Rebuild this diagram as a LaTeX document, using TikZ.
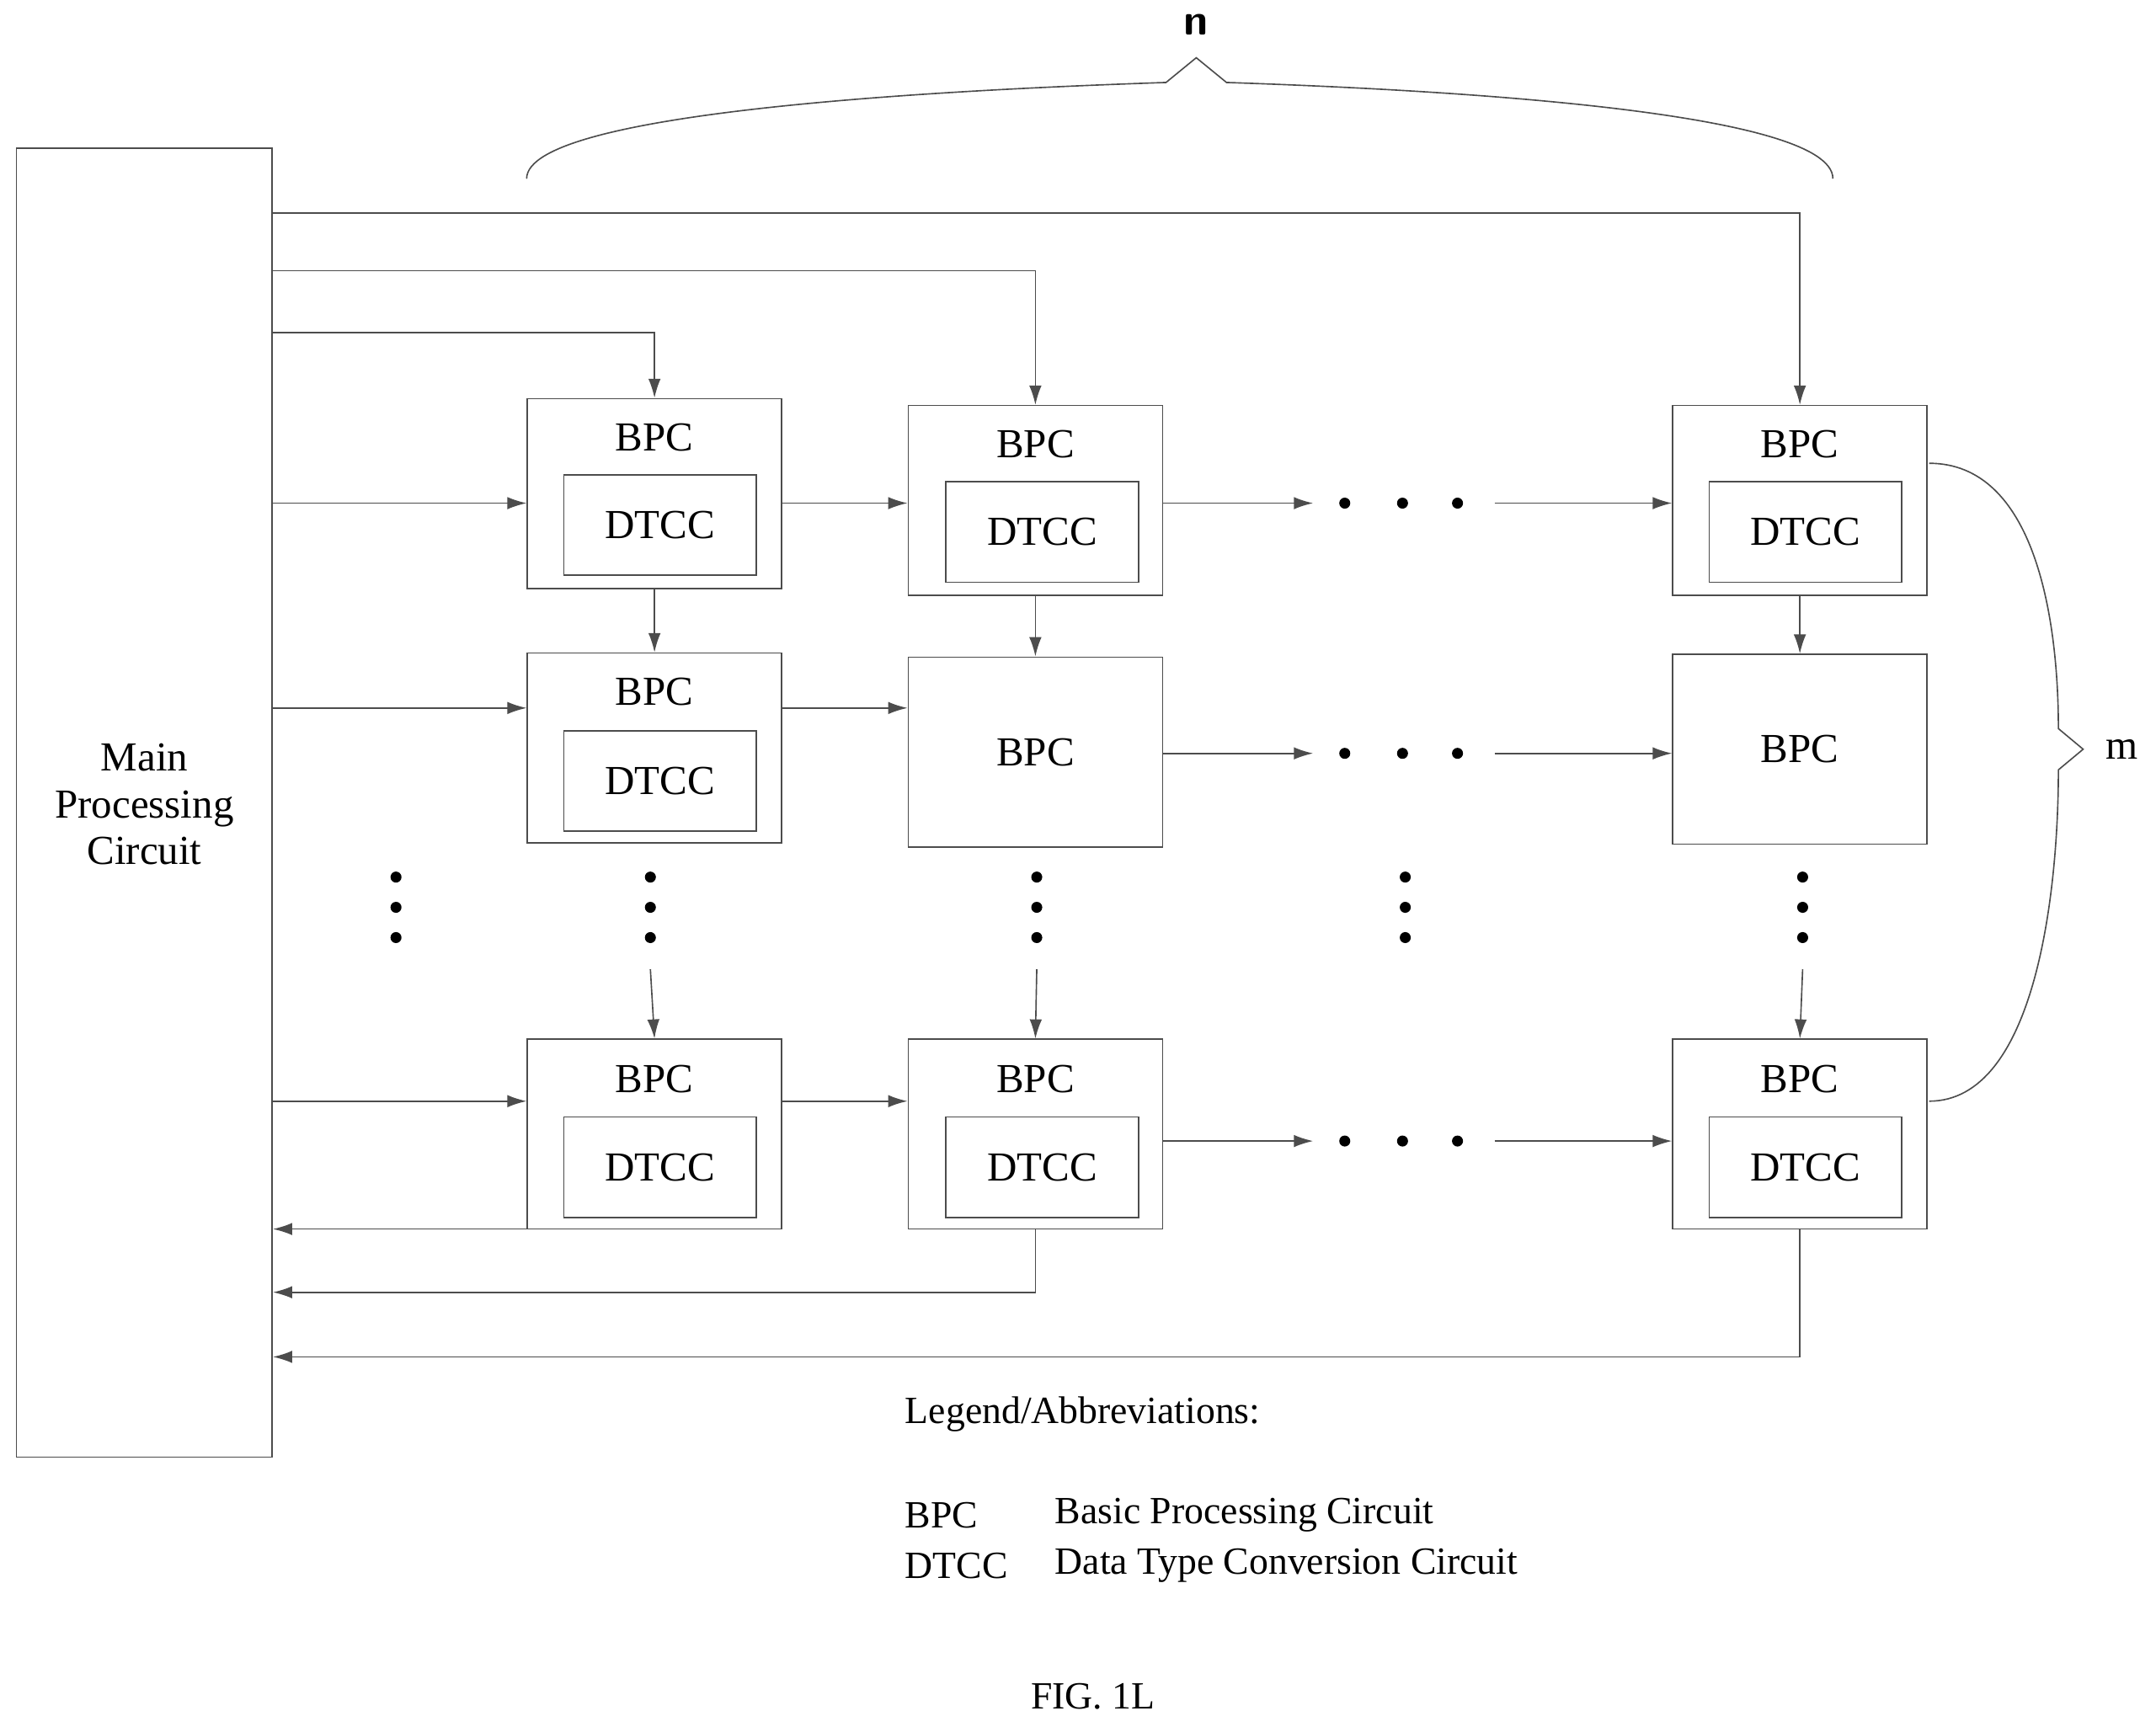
\documentclass[tikz,border=0pt]{standalone}
\usepackage{fontspec}
\setmainfont{Liberation Serif}
\usetikzlibrary{arrows.meta,decorations.pathreplacing}
\begin{document}
\begin{tikzpicture}[x=0.5pt,y=-0.5pt,
 ln/.style={draw=black!70,line width=0.5pt},
 ar/.style={ln,-{Latex[length=7pt,width=4.5pt]}},
 bpc/.style={ln,rectangle,minimum width=92.5pt,minimum height=69pt,inner sep=0pt},
 dt/.style={ln,rectangle,minimum width=70pt,minimum height=36.5pt,inner sep=0pt,font=\fontsize{15}{15}\selectfont},
 lab/.style={font=\fontsize{15}{15}\selectfont,inner sep=0pt},
 dot/.style={circle,fill=black,inner sep=0pt,minimum size=4pt},
 txt/.style={font=\fontsize{14}{14}\selectfont,inner sep=0pt,anchor=west}]
\useasboundingbox (0,0) rectangle (1568,1256);
\node[ln,rectangle,minimum width=93pt,minimum height=476pt,inner sep=0pt] (main) at (105,584) {};
\node[lab,align=center] (mt) at (105,585) {Main\\[2pt]Processing\\[2pt]Circuit};
% boxes
\foreach \n/\x/\y in {a1/476/359,a2/753/364,a3/1309/364,b1/476/544,b2/753/547,b3/1309/545,c1/476/825,c2/753/825,c3/1309/825}
  \node[bpc] (\n) at (\x,\y) {};
\foreach \n/\x/\y in {a1/476/318,a2/753/323,a3/1309/323,b1/476/503,c1/476/785,c2/753/785,c3/1309/785}
  \node[lab] (t\n) at (\x,\y) {BPC};
\node[lab] (tb2) at (753,547) {BPC};
\node[lab] (tb3) at (1309,545) {BPC};
\foreach \n/\x/\y in {a1/480/382,a2/758/387,a3/1313/387,b1/480/568,c1/480/849,c2/758/849,c3/1313/849}
  \node[dt] (d\n) at (\x,\y) {DTCC};
% top feeds
\draw[ar] (main.north east |- 0,242) -| (a1.north);
\draw[ar] (main.north east |- 0,197) -| (a2.north);
\draw[ar] (main.north east |- 0,155) -| (a3.north);
% row feeds
\draw[ar] (198,366) -- (a1.west |- 0,366);
\draw[ar] (198,515) -- (b1.west |- 0,515);
\draw[ar] (198,801) -- (c1.west |- 0,801);
\draw[ar] (a1.east |- 0,366) -- (a2.west |- 0,366);
\draw[ar] (b1.east |- 0,515) -- (b2.west |- 0,515);
\draw[ar] (c1.east |- 0,801) -- (c2.west |- 0,801);
\foreach \r/\y in {a/366,b/548,c/830}{
  \coordinate (s\r) at (955,\y); \coordinate (e\r) at (1087,\y);
  \draw[ar] (\r2.east |- 0,\y) -- (s\r);
  \draw[ar] (e\r) -- (\r3.west |- 0,\y);
  \foreach \dx in {978,1020,1060} \node[dot] at (\dx,\y) {};
}
% verticals
\foreach \c in {1,2,3} \draw[ar] (a\c) -- (b\c);
\foreach \x in {473,754,1311}{
  \coordinate (v\x) at (\x,705);}
\draw[ar] (v473) -- (c1.north);
\draw[ar] (v754) -- (c2.north);
\draw[ar] (v1311) -- (c3.north);
\foreach \x in {288,473,754,1022,1311}
  \foreach \y in {638,660,682} \node[dot] at (\x,\y) {};
% returns
\draw[ar] (c1.south west |- 0,894) -- (main.east |- 0,894);
\draw[ar] (c2.south) |- (main.east |- 0,940);
\draw[ar] (c3.south) |- (main.east |- 0,987);
% braces
\draw[ln] (383,130) .. controls (383,80) and (700,65) .. (848,60) -- (870,42) -- (892,60) .. controls (1040,65) and (1333,80) .. (1333,130);
\node[font=\sffamily\bfseries\fontsize{16}{16}\selectfont] (nl) at (870,18) {n};
\draw[ln] (1403,337) .. controls (1480,337) and (1497,450) .. (1497,530) -- (1515,545) -- (1497,560) .. controls (1497,650) and (1480,801) .. (1403,801);
\node[lab] (ml) at (1543,545) {m};
% legend
\node[txt] (l0) at (658,1029) {Legend/Abbreviations:};
\node[txt] (l1) at (658,1102) {BPC};
\node[txt] (l1b) at (767,1102) {Basic Processing Circuit};
\node[txt] (l2) at (658,1139) {DTCC};
\node[txt] (l2b) at (767,1139) {Data Type Conversion Circuit};
\node[lab,font=\fontsize{14}{14}\selectfont] (fig) at (795,1234) {FIG. 1L};
\end{tikzpicture}
\end{document}
